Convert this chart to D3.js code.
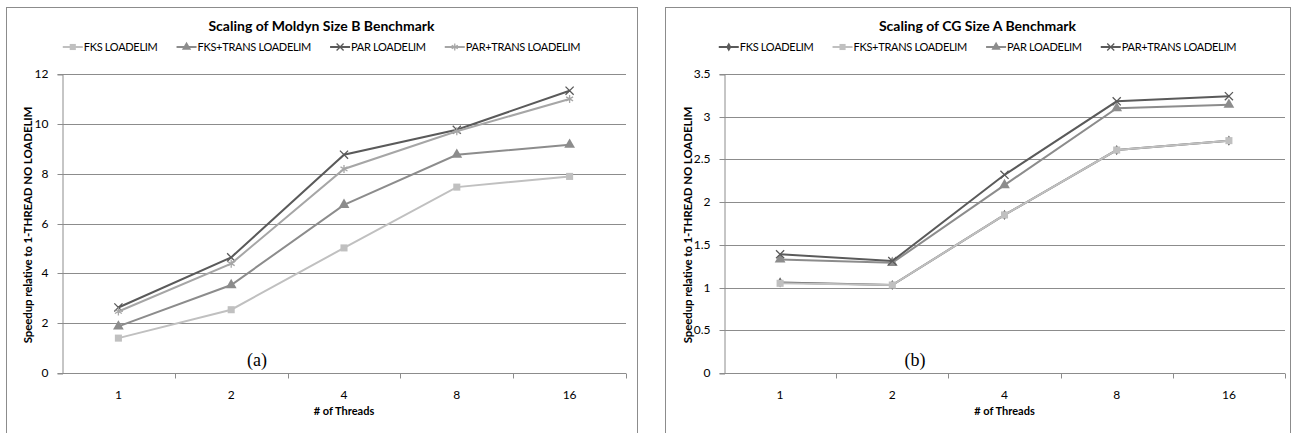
<!DOCTYPE html>
<html>
<head>
<meta charset="utf-8">
<script src="https://cdn.jsdelivr.net/npm/d3@7"></script>
<style>
  body { margin: 0; background: #fff; }
  svg text { font-family: Lato, "Open Sans", sans-serif; fill: #000; }
</style>
</head>
<body>
<svg id="chart" width="1293" height="433"></svg>
<script>
// 横轴：线程数
var threads = ["1", "2", "4", "8", "16"];

// (a) Moldyn Size B
var moldynNames = ["FKS LOADELIM", "FKS+TRANS LOADELIM", "PAR LOADELIM", "PAR+TRANS LOADELIM"];
var moldynFks = [1.40, 2.54, 5.02, 7.46, 7.89];
var moldynFksTrans = [1.87, 3.53, 6.75, 8.76, 9.16];
var moldynPar = [2.63, 4.64, 8.76, 9.76, 11.33];
var moldynParTrans = [2.47, 4.39, 8.19, 9.70, 11.0];
var moldynTicks = [0, 2, 4, 6, 8, 10, 12];

// (b) CG Size A
var cgNames = ["FKS LOADELIM", "FKS+TRANS LOADELIM", "PAR LOADELIM", "PAR+TRANS LOADELIM"];
var cgFks = [1.06, 1.03, 1.85, 2.61, 2.72];
var cgFksTrans = [1.05, 1.03, 1.85, 2.61, 2.72];
var cgPar = [1.33, 1.29, 2.20, 3.10, 3.14];
var cgParTrans = [1.39, 1.31, 2.32, 3.18, 3.24];
var cgTicks = [0, 0.5, 1, 1.5, 2, 2.5, 3, 3.5];

var svg = d3.select("#chart");

function drawChart(opt){
    var g = svg.append("g");
    // 外框
    g.append("rect")
        .attr("x", opt.frame[0] + 0.5).attr("y", opt.frame[1] + 0.5)
        .attr("width", opt.frame[2] - opt.frame[0]).attr("height", 440)
        .attr("fill", "#fff").attr("stroke", "#8c8c8c").attr("stroke-width", 1);

    var x = d3.scaleBand().domain(threads).range([opt.left, opt.right]);
    var y = d3.scaleLinear().domain([0, opt.ymax]).range([373, 74]);

    // 网格线
    g.append("g").selectAll("line").data(opt.ticks.slice(1)).join("line")
        .attr("x1", opt.left).attr("x2", opt.right)
        .attr("y1", d => Math.round(y(d)) + 0.5).attr("y2", d => Math.round(y(d)) + 0.5)
        .attr("stroke", "#8c8c8c");

    // 坐标轴
    var yAxis = g.append("g").attr("transform", "translate(" + (opt.left + 0.5) + ",0.5)")
        .call(d3.axisLeft(y).tickValues(opt.ticks).tickSize(5).tickPadding(9).tickFormat(d3.format("")));
    yAxis.select(".domain").attr("stroke", "#8c8c8c");
    yAxis.selectAll(".tick line").attr("stroke", "#8c8c8c");
    yAxis.selectAll(".tick").attr("transform", d => "translate(0," + Math.round(y(d)) + ")");
    yAxis.selectAll("text").style("font-size", "12px").style("font-family", "Lato, sans-serif").attr("fill", "#000");

    var base = g.append("g").attr("transform", "translate(0," + (Math.round(y(0)) + 0.5) + ")");
    base.append("line").attr("x1", opt.left).attr("x2", opt.right).attr("stroke", "#8c8c8c");
    base.selectAll(".xt").data(threads).join("line")
        .attr("x1", (d, i) => Math.round(opt.left + x.step() * (i + 1)) + 0.5)
        .attr("x2", (d, i) => Math.round(opt.left + x.step() * (i + 1)) + 0.5)
        .attr("y1", 0).attr("y2", 5).attr("stroke", "#8c8c8c");
    base.selectAll(".xl").data(threads).join("text")
        .attr("x", d => x(d) + x.bandwidth() / 2).attr("y", 25)
        .attr("text-anchor", "middle").style("font-size", "12px").text(d => d);

    // 标题
    var cx = (opt.frame[0] + opt.frame[2]) / 2;
    g.append("text").attr("x", cx).attr("y", 31).attr("text-anchor", "middle")
        .style("font-size", "14px").style("font-weight", "bold").text(opt.title);
    g.append("text").attr("x", (opt.left + opt.right) / 2).attr("y", 415).attr("text-anchor", "middle")
        .style("font-size", "11px").style("font-weight", "bold").text("# of Threads");
    g.append("text").attr("transform", "translate(" + opt.ytx + ",225) rotate(-90)")
        .attr("text-anchor", "middle").attr("dy", "0.35em")
        .style("font-size", "11.5px").style("font-weight", "bold").style("letter-spacing", "-0.1px")
        .text("Speedup relative to 1-THREAD NO LOADELIM");
    g.append("text").attr("x", opt.tagX).attr("y", 366).attr("text-anchor", "middle")
        .style("font-family", "'Liberation Serif', serif").style("font-size", "18px").text(opt.tag);

    // 折线与标记
    var line = d3.line().x((d, i) => x(threads[i]) + x.bandwidth() / 2).y(d => y(d));
    opt.series.forEach(function(s){
        g.append("path").datum(s.values).attr("d", line)
            .attr("fill", "none").attr("stroke", s.color).attr("stroke-width", 2);
        g.selectAll(null).data(s.values).join("path")
            .attr("transform", (d, i) => "translate(" + (x(threads[i]) + x.bandwidth() / 2) + "," + y(d) + ")")
            .call(p => markerStyle(p, s));
    });

    // 图例
    var leg = g.append("g").attr("transform", "translate(0,47)");
    var items = leg.selectAll("g").data(opt.series).join("g");
    items.append("line").attr("x1", 0).attr("x2", 20).attr("stroke", d => d.color).attr("stroke-width", 2);
    items.append("path").attr("transform", "translate(10,0)")
        .each(function(d){ markerStyle(d3.select(this), d, 0.75); });
    items.append("text").attr("x", 21).attr("dy", "0.35em")
        .style("font-size", "11px").style("letter-spacing", "-0.3px").text(d => d.name);
    var widths = [];
    items.each(function(){ widths.push(this.getBBox().width); });
    var gap = 19, total = d3.sum(widths) + gap * (widths.length - 1), pos = cx - total / 2;
    items.attr("transform", function(d, i){
        var t = "translate(" + pos + ",0)"; pos += widths[i] + gap; return t;
    });
}

function markerStyle(p, s, k){
    k = k || 1;
    var stroked = s.shape === d3.symbolTimes || s.shape === d3.symbolAsterisk;
    var size = stroked ? 45 : (s.shape === d3.symbolDiamond ? 30 : 50);
    p.attr("d", d3.symbol().type(s.shape).size(size * k))
        .attr("fill", stroked ? "none" : s.color)
        .attr("stroke", stroked ? s.color : "none")
        .attr("stroke-width", 1.3);
}

drawChart({
    frame: [6, 7, 637], left: 62, right: 626, ymax: 12, ticks: moldynTicks,
    title: "Scaling of Moldyn Size B Benchmark", ytx: 28, tag: "(a)", tagX: 257,
    series: [
        {name: moldynNames[0], values: moldynFks, color: "#c0c0c0", shape: d3.symbolSquare},
        {name: moldynNames[1], values: moldynFksTrans, color: "#8c8c8c", shape: d3.symbolTriangle},
        {name: moldynNames[2], values: moldynPar, color: "#5a5a5a", shape: d3.symbolTimes},
        {name: moldynNames[3], values: moldynParTrans, color: "#a6a6a6", shape: d3.symbolAsterisk}
    ]
});

drawChart({
    frame: [665, 7, 1290], left: 724, right: 1285, ymax: 3.5, ticks: cgTicks,
    title: "Scaling of CG Size A Benchmark", ytx: 688, tag: "(b)", tagX: 915,
    series: [
        {name: cgNames[0], values: cgFks, color: "#5a5a5a", shape: d3.symbolDiamond},
        {name: cgNames[1], values: cgFksTrans, color: "#c0c0c0", shape: d3.symbolSquare},
        {name: cgNames[2], values: cgPar, color: "#8c8c8c", shape: d3.symbolTriangle},
        {name: cgNames[3], values: cgParTrans, color: "#5a5a5a", shape: d3.symbolTimes}
    ]
});
</script>
</body>
</html>
